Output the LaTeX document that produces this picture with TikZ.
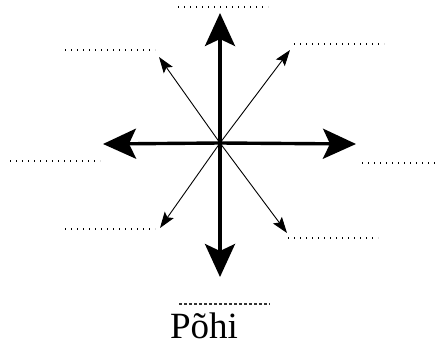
\documentclass[tikz,border=0pt]{standalone}
\usepackage{fontspec}
\setmainfont{Liberation Serif}
\usetikzlibrary{arrows.meta}

\begin{document}
\begin{tikzpicture}[
    x=1pt, y=-1pt,
    main/.style = {line width=3.4pt, -{Stealth[length=33pt, width=30pt, inset=7pt]}},
    side/.style = {line width=0.9pt, -{Stealth[length=16pt, width=11pt, inset=3pt]}},
    blank/.style = {line width=1.3pt, dash pattern=on 1.2pt off 4.8pt},
    >=Stealth]

    \useasboundingbox (0,0) rectangle (439,345);

    % centre and arrow tips
    \coordinate (c) at (220,143);
    \coordinate (n) at (220,13);
    \coordinate (s) at (220,277);
    \coordinate (w) at (103,144);
    \coordinate (e) at (356,144);
    \coordinate (nw) at (159,57);
    \coordinate (ne) at (290,50);
    \coordinate (sw) at (160,228);
    \coordinate (se) at (287,233);

    \draw[main] (c) -- (n);
    \draw[main] (c) -- (s);
    \draw[main] (c) -- (w);
    \draw[main] (c) -- (e);
    \draw[side] (c) -- (nw);
    \draw[side] (c) -- (ne);
    \draw[side] (c) -- (sw);
    \draw[side] (c) -- (se);

    % blanks to write in
    \draw[blank] (178,7) -- (268,7);
    \draw[blank] (65,50) -- (155,50);
    \draw[blank] (294,44) -- (384,44);
    \draw[blank] (10,161) -- (100,161);
    \draw[blank] (362,163) -- (439,163);
    \draw[blank] (65,229) -- (155,229);
    \draw[blank] (288,238) -- (378,238);
    \draw[blank, line width=2pt, dash pattern=on 3pt off 2pt, black!80] (179,304) -- (270,304);

    \node[font=\fontsize{37}{40}\selectfont, anchor=base, inner sep=0pt] (title) at (204,338) {Põhi};
\end{tikzpicture}
\end{document}
